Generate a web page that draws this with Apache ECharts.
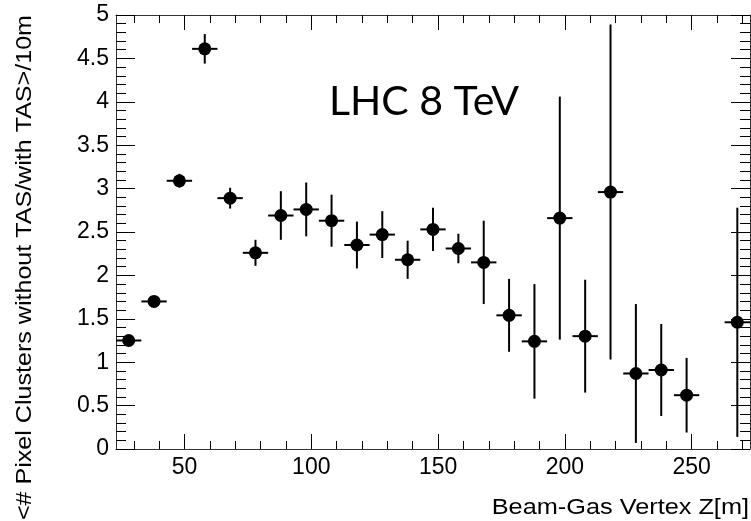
<!DOCTYPE html>
<html>
<head>
<meta charset="utf-8">
<script src="https://cdn.jsdelivr.net/npm/echarts@6/dist/echarts.min.js"></script>
<style>html,body{margin:0;padding:0;background:#fff;}#c{width:751px;height:521px;}</style>
</head>
<body>
<div id="c"></div>
<script>
// Data
var zVertex = [28,38,48,58,68,78,88,98,108,118,128,138,148,158,168,178,188,198,208,218,228,238,248,268];
var ratio   = [1.25,1.70,3.09,4.61,2.89,2.26,2.69,2.76,2.63,2.35,2.47,2.18,2.53,2.31,2.15,1.54,1.24,2.66,1.30,2.96,0.87,0.91,0.62,1.46];
var yErr    = [0.03,0.03,0.08,0.17,0.12,0.15,0.28,0.31,0.30,0.27,0.27,0.22,0.25,0.17,0.48,0.42,0.66,1.40,0.65,1.93,0.80,0.53,0.43,1.32];
var xErr    = [5,5,5,5,5,5,5,5,5,5,5,5,5,5,5,5,5,5,5,5,5,5,5,5];
var xMajorTicks = [50,100,150,200,250];
var xMinorTicks = [30,40,60,70,80,90,110,120,130,140,160,170,180,190,210,220,230,240,260,270];
var xRange = [23, 273];
var yRange = [0, 5];
var yStep = 0.5;
var xTitle = 'Beam-Gas Vertex Z[m]';
var yTitle = '<# Pixel Clusters without TAS/with TAS>/10m';
var annotation = 'LHC 8 TeV';

var points = zVertex.map(function(x,i){ return [x, ratio[i]]; });
var errData = zVertex.map(function(x,i){ return [x, ratio[i], xErr[i], yErr[i]]; });

var FONT = '"Liberation Sans", Arial, sans-serif';
var lineCol = '#333';

function xAxisDef(pos, ticks, len, showLine, showLabels){
  return {
    type:'value', position:pos, min:xRange[0], max:xRange[1],
    axisLine:{show:showLine, onZero:false, lineStyle:{color:lineCol, width:1}},
    axisTick:{show:true, inside:true, length:len, customValues:ticks, lineStyle:{color:'#000', width:1}},
    axisLabel:{show:showLabels, customValues:ticks, color:'#000', fontSize:23, fontFamily:FONT, margin:7},
    splitLine:{show:false}
  };
}
function yAxisDef(pos, showLabels){
  return {
    type:'value', position:pos, min:yRange[0], max:yRange[1], interval:yStep,
    axisLine:{show:true, onZero:false, lineStyle:{color:lineCol, width:1}},
    axisTick:{show:true, inside:true, length:19, lineStyle:{color:'#000', width:1}},
    minorTick:{show:true, splitNumber:5, length:10, lineStyle:{color:'#000', width:1}},
    axisLabel:{show:showLabels, color:'#000', fontSize:23, fontFamily:FONT, margin:7,
      formatter:function(v){ return String(v); }},
    splitLine:{show:false}, minorSplitLine:{show:false}
  };
}

var chart = echarts.init(document.getElementById('c'), null, {renderer:'canvas'});
chart.setOption({
  animation:false,
  backgroundColor:'#fff',
  grid:{left:116, right:1, top:15, bottom:72, containLabel:false},
  xAxis:[
    xAxisDef('bottom', xMajorTicks, 15, true, true),
    xAxisDef('bottom', xMinorTicks, 8, false, false),
    xAxisDef('top', xMajorTicks, 15, true, false),
    xAxisDef('top', xMinorTicks, 8, false, false)
  ],
  yAxis:[ yAxisDef('left', true), yAxisDef('right', false) ],
  graphic:[
    {type:'text', x:25, y:15, rotation:Math.PI/2, scaleX:1.14, scaleY:1,
      style:{text:yTitle, fill:'#000', font:'22px ' + FONT, align:'right', verticalAlign:'middle'}},
    {type:'text', x:749, y:508, scaleX:1.15, scaleY:1,
      style:{text:xTitle, fill:'#000', font:'22px ' + FONT, align:'right', verticalAlign:'middle'}},
    {type:'text', x:329, y:102,
      style:{text:annotation, fill:'#000', font:'41px Lato, "Open Sans", sans-serif', align:'left', verticalAlign:'middle'}}
  ],
  series:[
    {
      type:'custom', xAxisIndex:0, yAxisIndex:0, clip:true,
      data:errData,
      renderItem:function(params, api){
        var x = api.value(0), y = api.value(1), dx = api.value(2), dy = api.value(3);
        var l = api.coord([x-dx, y]), r = api.coord([x+dx, y]);
        var t = api.coord([x, y+dy]), b = api.coord([x, y-dy]);
        var st = {stroke:'#000', lineWidth:2};
        return {type:'group', children:[
          {type:'line', shape:{x1:l[0], y1:l[1], x2:r[0], y2:r[1]}, style:st},
          {type:'line', shape:{x1:t[0], y1:t[1], x2:b[0], y2:b[1]}, style:st}
        ]};
      },
      z:2
    },
    {
      type:'scatter', xAxisIndex:0, yAxisIndex:0, data:points,
      symbol:'circle', symbolSize:13, itemStyle:{color:'#000', opacity:1}, z:3
    }
  ]
});
</script>
</body>
</html>
